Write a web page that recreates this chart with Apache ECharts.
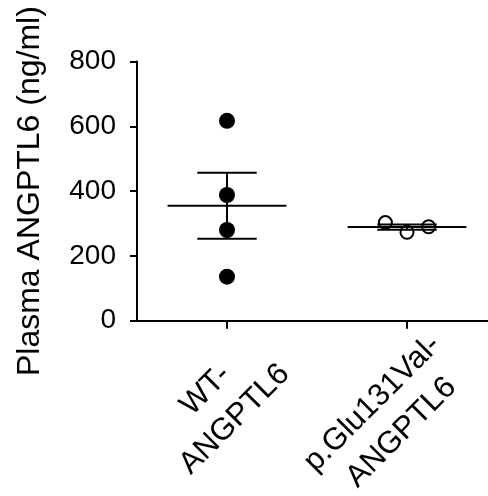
<!DOCTYPE html>
<html>
<head>
<meta charset="utf-8">
<script src="https://cdn.jsdelivr.net/npm/echarts@6/dist/echarts.min.js"></script>
<style>
html,body{margin:0;padding:0;background:#fff;}
#chart{width:488px;height:496px;}
</style>
</head>
<body>
<div id="chart"></div>
<script>
// ---- data ----
const categories = ['WT-\nANGPTL6', 'p.Glu131Val-\nANGPTL6'];
const categoryPositions = [1, 2];
const wtValues = [617, 388, 280, 136];
const wtOffsets = [0, 0, 0, 0];
const mutValues = [303, 273, 290];
const mutOffsets = [-0.12, 0, 0.12];
const groupMeans = [355, 289];
const groupSEM = [102, 8];
const yTicks = [0, 200, 400, 600, 800];
const yTitle = 'Plasma ANGPTL6 (ng/ml)';

const FONT = '"Liberation Sans", Arial, Helvetica, sans-serif';

const chart = echarts.init(document.getElementById('chart'), null, {renderer: 'canvas'});

const wtData = wtValues.map((v, i) => [categoryPositions[0] + wtOffsets[i], v]);
const mutData = mutValues.map((v, i) => [categoryPositions[1] + mutOffsets[i], v]);
const summaryData = groupMeans.map((m, i) => [categoryPositions[i], m, groupSEM[i]]);

const MEAN_HALF = 0.33;
const CAP_HALF = 0.165;

chart.setOption({
  animation: false,
  backgroundColor: '#fff',
  grid: {left: 137, right: 0, top: 61.5, bottom: 175.3, containLabel: false, outerBoundsMode: 'none'},
  xAxis: {
    type: 'value',
    min: 0.5,
    max: 2.45,
    splitLine: {show: false},
    axisLine: {show: true, onZero: false, lineStyle: {color: '#000', width: 2}},
    axisTick: {show: true, customValues: categoryPositions, length: 8, lineStyle: {color: '#000', width: 2}},
    axisLabel: {
      show: true,
      customValues: categoryPositions,
      rotate: 45,
      margin: -9,
      verticalAlign: 'top',
      padding: [20, 0, 0, 0],
      color: '#000',
      fontFamily: FONT,
      fontSize: 31,
      formatter: function (v) {
        const idx = categoryPositions.indexOf(Math.round(v));
        if (idx < 0) return '';
        return categories[idx].split('\n').map(s => '{c|' + s + '}').join('\n');
      },
      rich: {c: {align: 'center', fontFamily: FONT, fontSize: 31, color: '#000', lineHeight: 41}}
    }
  },
  yAxis: {
    type: 'value',
    min: yTicks[0],
    max: yTicks[yTicks.length - 1],
    interval: 200,
    splitLine: {show: false},
    axisLine: {show: true, lineStyle: {color: '#000', width: 2}},
    axisTick: {show: true, length: 7, lineStyle: {color: '#000', width: 2}},
    axisLabel: {color: '#000', fontFamily: FONT, fontSize: 28, margin: 21},
    name: yTitle,
    nameLocation: 'middle',
    nameRotate: 90,
    nameGap: 91,
    nameTextStyle: {color: '#000', fontFamily: FONT, fontSize: 32}
  },
  series: [
    {
      type: 'custom',
      z: 3,
      data: summaryData,
      renderItem: function (params, api) {
        const x = api.value(0), m = api.value(1), s = api.value(2);
        const style = {stroke: '#000', lineWidth: 2};
        const seg = (x1, y1, x2, y2) => {
          const a = api.coord([x1, y1]), b = api.coord([x2, y2]);
          return {type: 'line', shape: {x1: a[0], y1: a[1], x2: b[0], y2: b[1]}, style: style};
        };
        return {type: 'group', children: [
          seg(x - MEAN_HALF, m, x + MEAN_HALF, m),
          seg(x, m - s, x, m + s),
          seg(x - CAP_HALF, m + s, x + CAP_HALF, m + s),
          seg(x - CAP_HALF, m - s, x + CAP_HALF, m - s)
        ]};
      }
    },
    {
      type: 'scatter',
      z: 4,
      data: wtData,
      symbol: 'circle',
      symbolSize: 16,
      itemStyle: {color: '#000', opacity: 1}
    },
    {
      type: 'scatter',
      z: 4,
      data: mutData,
      symbol: 'circle',
      symbolSize: 13,
      itemStyle: {color: 'rgba(0,0,0,0)', borderColor: '#000', borderWidth: 2, opacity: 1}
    }
  ]
});
</script>
</body>
</html>
